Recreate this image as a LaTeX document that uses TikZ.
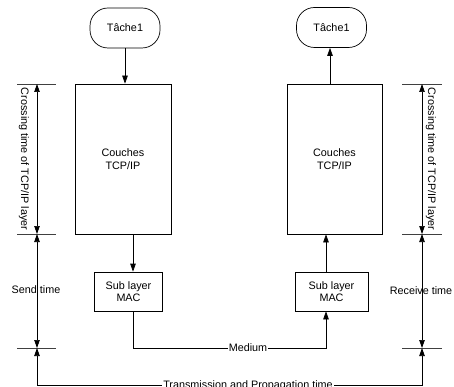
\documentclass[tikz,border=0pt]{standalone}
\usepackage{fontspec}
\setmainfont{Liberation Sans}
\usetikzlibrary{arrows.meta}
\begin{document}
\begin{tikzpicture}[x=1pt,y=-1pt, line width=0.7pt,
  tip/.tip={Triangle[length=8pt,width=5.5pt]},
  arr/.style={-tip},
  darr/.style={tip-tip},
  every node/.style={font=\fontsize{10.8}{12.5}\selectfont},
  task/.style={draw, rounded corners=18pt, minimum width=70pt, minimum height=40pt, inner sep=0pt},
  layerbox/.style={draw, minimum width=96pt, minimum height=150pt, align=center, inner sep=0pt},
  macbox/.style={draw, minimum width=68pt, minimum height=39pt, align=center, inner sep=0pt},
  ticks/.style={draw=black!75},
  txt/.style={inner sep=1pt}]
\useasboundingbox (0,0) rectangle (454,387);

% nodes
\node[task] (t1) at (125,28) {Tâche1};
\node[task] (t2) at (331.5,27.5) {Tâche1};
\node[layerbox] (c1) at (123,159) {Couches\\TCP/IP};
\node[layerbox, minimum width=95pt] (c2) at (334.5,159) {Couches\\TCP/IP};
\node[macbox] (m1) at (128.5,291.5) {Sub layer\\MAC};
\node[macbox, minimum width=73pt] (m2) at (331.5,291.5) {Sub layer\\MAC};

% x positions of connectors
\coordinate (xa) at (125,0);
\coordinate (xb) at (133,0);
\coordinate (xc) at (326,0);
\coordinate (xd) at (330,0);
\coordinate (med) at (0,348);

\draw[arr] (t1.south -| xa) -- (c1.north -| xa);
\draw[arr] (c1.south -| xb) -- (m1.north -| xb);
\draw[arr] (m1.south -| xb) -- (xb |- med) -- (xc |- med) -- (m2.south -| xc);
\draw[arr] (m2.north -| xc) -- (c2.south -| xc);
\draw[arr] (c2.north -| xd) -- (t2.south -| xd);
\node[txt, fill=white] (medium) at (248,348) {Medium};

% dimension lines
\coordinate (L1) at (37,84);
\coordinate (L2) at (37,234);
\coordinate (L3) at (37,348);
\coordinate (L4) at (37,385);
\coordinate (R1) at (422,84);
\coordinate (R2) at (422,234);
\coordinate (R3) at (422,348);
\coordinate (R4) at (422,385);

\foreach \y in {84,234,348} {
  \draw[ticks] (17,\y) -- (56,\y);
  \draw[ticks] (402,\y) -- (442,\y);
}

\draw[darr] (L1) -- (L2);
\draw[darr] (L2) -- (L3);
\draw[darr] (R1) -- (R2);
\draw[darr] (R2) -- (R3);
\draw[darr] (L3) -- (L4) -- (R4) -- (R3);

\node[txt, rotate=-90] (cl) at (24,159) {Crossing time of TCP/IP layer};
\node[txt, rotate=-90] (cr) at (431,159) {Crossing time of TCP/IP layer};
\node[txt] (send) at (36,290) {Send time};
\node[txt] (recv) at (421,291) {Receive time};
\node[txt, fill=white] (trans) at (248,386) {Transmission and Propagation time};
\end{tikzpicture}
\end{document}
